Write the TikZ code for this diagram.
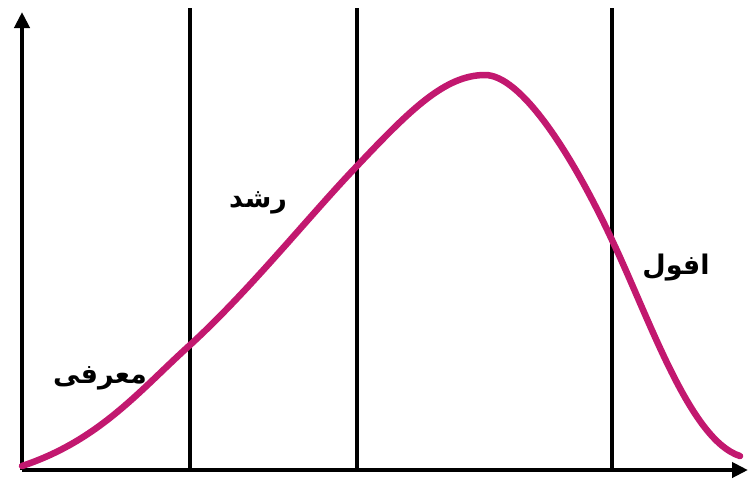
\documentclass[tikz,border=0pt]{standalone}
\usepackage{fontspec}
\TeXXeTstate=1
\newfontfamily\arabicfont[Script=Arabic]{DejaVu Sans}
\usetikzlibrary{arrows.meta}
\definecolor{curvec}{HTML}{C2186F}
\tikzset{
  axis/.style={line width=4.5pt, -{Triangle[length=16pt,width=15pt]}},
  divider/.style={line width=4.5pt},
  lbl/.style={font=\arabicfont\bfseries\fontsize{27}{27}\selectfont, inner sep=0pt},
  lifecurve/.style={line width=6.5pt, color=curvec, line cap=round}
}
\begin{document}
\begin{tikzpicture}[x=1pt,y=-1pt]
\useasboundingbox (0,0) rectangle (749,488);
\coordinate (o) at (22,470);
\coordinate (ytop) at (22,12);
\coordinate (xend) at (748,470);
\coordinate (d1t) at (190,8);  \coordinate (d1b) at (190,470);
\coordinate (d2t) at (357,8);  \coordinate (d2b) at (357,470);
\coordinate (d3t) at (612,8);  \coordinate (d3b) at (612,470);
\draw[divider] (d1t) -- (d1b);
\draw[divider] (d2t) -- (d2b);
\draw[divider] (d3t) -- (d3b);
\draw[axis] (o) -- (ytop);
\draw[axis] (o) -- (xend);
\draw[lifecurve] (22,466) .. controls (100,440) and (140,390) .. (190,345)
  .. controls (250,290) and (310,215) .. (357,166)
  .. controls (410,110) and (445,75) .. (485,75)
  .. controls (520,75) and (570,150) .. (612,240)
  .. controls (650,320) and (690,440) .. (740,456);
\node[lbl] (intro) at (100,378) {\beginR معرفی\endR};
\node[lbl] (growth) at (258,203) {\beginR رشد\endR};
\node[lbl] (decline) at (676,268) {\beginR افول\endR};
\end{tikzpicture}
\end{document}
